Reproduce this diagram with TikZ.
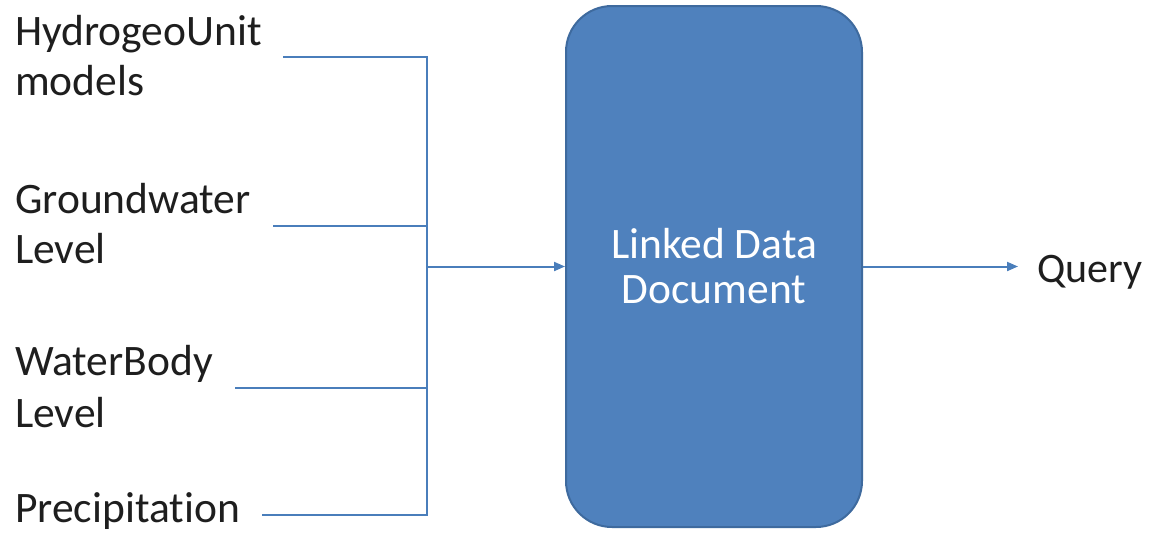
\documentclass[tikz,border=0pt]{standalone}
\usepackage{fontspec}
\setmainfont{Carlito}[Ligatures={NoCommon}]
\usetikzlibrary{arrows.meta}
\definecolor{boxfill}{HTML}{4F81BD}
\definecolor{boxline}{HTML}{3E6A9E}
\definecolor{conn}{HTML}{4A7EBB}
\definecolor{txt}{HTML}{1E1E1E}
\begin{document}
\begin{tikzpicture}[x=1pt,y=-1pt,
  lbl/.style={anchor=base west,inner sep=0pt,text=txt,font=\fontsize{43.5}{50}\selectfont},
  qlbl/.style={lbl,font=\fontsize{42}{50}\selectfont},
  mainbox/.style={draw=boxline,line width=2pt,fill=boxfill,rounded corners=46pt,
    minimum width=296pt,minimum height=521pt,align=center,text=white,
    font=\fontsize{43.5}{45}\selectfont},
  conline/.style={draw=conn,line width=2pt},
  arr/.style={conline,-{Triangle[length=11pt,width=9pt]}}]
\useasboundingbox[fill=white] (0,0) rectangle (1151,538);
\node[mainbox] (ldd) at (714,266.5) {Linked Data\\Document};
\node[lbl] (hyd1) at (15,45) {HydrogeoUnit};
\node[lbl] (hyd2) at (15,95) {models};
\node[lbl] (gw1) at (15,213) {Groundwater};
\node[lbl] (gw2) at (15,263) {Level};
\node[lbl] (wb1) at (15,375) {WaterBody};
\node[lbl] (wb2) at (15,427) {Level};
\node[lbl] (pr) at (15,522) {Precipitation};
\node[qlbl] (query) at (1037,282) {Query};
\coordinate (h1) at (283,57);
\coordinate (g1) at (273,226);
\coordinate (w1) at (235,388);
\coordinate (p1) at (262,515);
\coordinate (hc) at (427,57);
\coordinate (gc) at (427,226);
\coordinate (wc) at (427,388);
\coordinate (pc) at (427,515);
\coordinate (jn) at (427,266.5);
\coordinate (qe) at (1018,266.5);
\draw[conline] (h1) -- (hc) -- (pc) -- (p1);
\draw[conline] (g1) -- (gc);
\draw[conline] (w1) -- (wc);
\draw[arr] (jn) -- (ldd.west);
\draw[arr] (ldd.east) -- (qe);
\end{tikzpicture}
\end{document}
